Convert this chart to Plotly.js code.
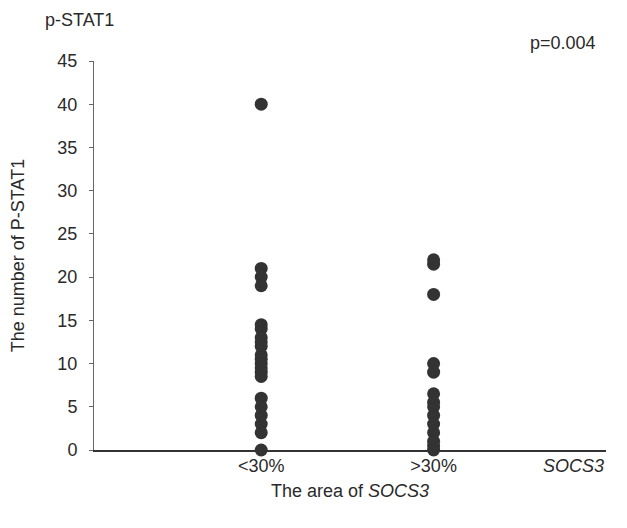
<!DOCTYPE html>
<html>
<head>
<meta charset="utf-8">
<script src="https://cdn.plot.ly/plotly-3.0.1.min.js"></script>
<style>html,body{margin:0;padding:0;background:#fff;}#chart{width:627px;height:528px;}</style>
</head>
<body>
<div id="chart"></div>
<script>
var groupLabels = ["<30%", ">30%"];
var groupPositions = [1, 2];
var lowGroup = [40, 21, 20, 19, 14.5, 14, 13, 12.5, 12, 11, 10.5, 10, 9.5, 9, 8.5, 6, 5, 4, 3, 2, 0];
var highGroup = [22, 21.5, 18, 10, 9, 6.5, 5.5, 5, 4, 3, 2, 1, 0.5, 0];
var yTicks = [0, 5, 10, 15, 20, 25, 30, 35, 40, 45];

var xs = [], ys = [];
lowGroup.forEach(function(v){ xs.push(groupPositions[0]); ys.push(v); });
highGroup.forEach(function(v){ xs.push(groupPositions[1]); ys.push(v); });

var font = {family: "Liberation Sans, Arial, sans-serif", size: 18, color: "#2a2a2a"};

var trace = {
  x: xs, y: ys, type: "scatter", mode: "markers",
  marker: {size: 13, color: "#333333"},
  cliponaxis: false, hoverinfo: "none"
};

var layout = {
  width: 627, height: 528,
  margin: {l: 94, r: 21, t: 61, b: 78},
  paper_bgcolor: "#fff", plot_bgcolor: "#fff",
  showlegend: false,
  font: font,
  xaxis: {
    range: [0.03, 3.0],
    tickvals: groupPositions, ticktext: groupLabels,
    showgrid: false, zeroline: false,
    showline: true, linecolor: "#333", linewidth: 1.5,
    ticks: "", ticklabelstandoff: -1,
    tickfont: font,
    title: {text: "The area of <i>SOCS3</i>", font: font, standoff: 9}
  },
  yaxis: {
    range: [0, 45],
    tickvals: yTicks,
    showgrid: false, zeroline: false,
    showline: true, linecolor: "#666", linewidth: 1,
    ticks: "outside", ticklen: 4, tickcolor: "#666",
    ticklabelstandoff: 8,
    tickfont: font,
    title: {text: "The number of P-STAT1", font: font, standoff: 28}
  },
  annotations: [
    {text: "p-STAT1", xref: "paper", yref: "paper", x: -0.1, y: 1.105, xanchor: "left", yanchor: "middle", showarrow: false, font: font},
    {text: "p=0.004", xref: "paper", yref: "paper", x: 0.985, y: 1.046, xanchor: "right", yanchor: "middle", showarrow: false, font: font},
    {text: "<i>SOCS3</i>", xref: "paper", yref: "paper", x: 1.0, y: 0, yshift: -4, xanchor: "right", yanchor: "top", showarrow: false, font: font}
  ]
};

Plotly.newPlot("chart", [trace], layout, {displayModeBar: false, staticPlot: true});
</script>
</body>
</html>
